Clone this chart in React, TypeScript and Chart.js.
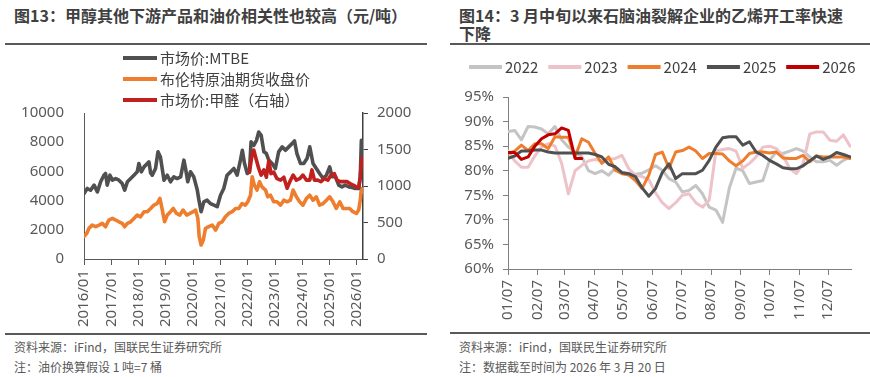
import React, { useEffect, useRef } from "react";
import { Chart, registerables } from "chart.js";

Chart.register(...registerables);

const LATIN = "'Noto Sans', 'Noto Sans CJK SC', sans-serif";
const CJK = "'Noto Sans CJK SC', 'Noto Sans', sans-serif";

// ---------- Figure 13 data ----------
const leftTitle = "图13：甲醇其他下游产品和油价相关性也较高（元/吨）";
const leftSource = "资料来源：iFind，国联民生证券研究所";
const leftNote = "注：油价换算假设 1 吨=7 桶";
const leftLabels = ["市场价:MTBE", "布伦特原油期货收盘价", "市场价:甲醛（右轴）"];
const leftYearTicks = [2016, 2017, 2018, 2019, 2020, 2021, 2022, 2023, 2024, 2025, 2026];

const mtbeYears = [
  2016.0, 2016.12, 2016.24, 2016.37, 2016.49, 2016.61, 2016.73, 2016.79, 2016.85, 2016.95,
  2017.04, 2017.16, 2017.28, 2017.4, 2017.49, 2017.59, 2017.71, 2017.83, 2017.95, 2018.01,
  2018.1, 2018.2, 2018.32, 2018.38, 2018.44, 2018.5, 2018.62, 2018.71, 2018.8, 2018.93,
  2019.05, 2019.17, 2019.29, 2019.41, 2019.54, 2019.66, 2019.72, 2019.8, 2019.9, 2020.02,
  2020.15, 2020.21, 2020.29, 2020.39, 2020.51, 2020.63, 2020.76, 2020.88, 2021.0, 2021.12,
  2021.24, 2021.37, 2021.49, 2021.61, 2021.73, 2021.8, 2021.88, 2021.98, 2022.06, 2022.12,
  2022.22, 2022.32, 2022.4, 2022.49, 2022.59, 2022.68, 2022.77, 2022.89, 2023.01, 2023.13,
  2023.26, 2023.38, 2023.5, 2023.62, 2023.71, 2023.8, 2023.93, 2024.05, 2024.17, 2024.27,
  2024.39, 2024.51, 2024.63, 2024.76, 2024.88, 2025.0, 2025.09, 2025.21, 2025.33, 2025.45,
  2025.57, 2025.7, 2025.82, 2025.94, 2026.06, 2026.12, 2026.16, 2026.2,
];
const mtbeValues = [
  4490, 4830, 4710, 5060, 4600, 5290, 5740, 5860, 5060, 5740,
  5400, 5510, 5400, 5170, 4720, 5290, 5510, 5740, 5970, 6540,
  5970, 6310, 6540, 6650, 5900, 5740, 6200, 7340, 6990, 5400,
  5740, 5290, 5630, 5510, 5630, 6770, 6200, 5290, 5970, 5630,
  4720, 4030, 3240, 3920, 4030, 3800, 3690, 3580, 4370, 4830,
  5740, 5970, 6200, 5740, 6770, 7450, 6540, 5860, 5970, 8020,
  7790, 8130, 8700, 8470, 7340, 7220, 6770, 6540, 6200, 7340,
  7680, 7450, 7680, 7900, 8090, 7220, 6540, 6540, 6880, 7680,
  6540, 6200, 5860, 5510, 5740, 6310, 5630, 5630, 5060, 4940,
  5060, 4940, 4900, 4830, 4830, 5630, 8130, 7680,
];

const brentYears = [
  2016.0, 2016.1, 2016.18, 2016.3, 2016.43, 2016.55, 2016.67, 2016.79, 2016.91, 2017.04,
  2017.16, 2017.28, 2017.4, 2017.49, 2017.59, 2017.71, 2017.83, 2017.95, 2018.07, 2018.2,
  2018.32, 2018.44, 2018.56, 2018.68, 2018.78, 2018.87, 2018.95, 2019.05, 2019.17, 2019.27,
  2019.39, 2019.51, 2019.63, 2019.76, 2019.88, 2020.0, 2020.09, 2020.17, 2020.22, 2020.29,
  2020.37, 2020.45, 2020.57, 2020.7, 2020.82, 2020.94, 2021.06, 2021.18, 2021.3, 2021.43,
  2021.55, 2021.67, 2021.79, 2021.91, 2022.0, 2022.1, 2022.16, 2022.24, 2022.34, 2022.43,
  2022.52, 2022.65, 2022.73, 2022.83, 2022.95, 2023.07, 2023.2, 2023.32, 2023.44, 2023.56,
  2023.66, 2023.78, 2023.9, 2024.02, 2024.15, 2024.27, 2024.39, 2024.51, 2024.63, 2024.76,
  2024.88, 2025.0, 2025.12, 2025.24, 2025.37, 2025.49, 2025.61, 2025.73, 2025.85, 2025.98,
  2026.06, 2026.12, 2026.16, 2026.2,
];
const brentValues = [
  1530, 1750, 2100, 2320, 2210, 2320, 2440, 2210, 2670, 2780,
  2670, 2550, 2440, 2210, 2440, 2550, 2780, 3010, 2890, 3240,
  3240, 3460, 3690, 3800, 4150, 3350, 2550, 3010, 3240, 3460,
  3120, 3010, 3350, 3010, 3120, 3240, 3350, 2780, 1530, 960,
  1300, 2100, 2210, 2320, 1980, 2440, 2550, 2890, 3120, 3240,
  3460, 3460, 3800, 3690, 3920, 4370, 5630, 5060, 4720, 5290,
  4940, 4720, 4260, 4370, 3920, 3920, 3690, 4030, 3920, 4030,
  4720, 4260, 3920, 3690, 4150, 4370, 4030, 4260, 3690, 3800,
  4030, 4260, 3920, 3460, 3920, 3460, 3460, 3460, 3240, 3120,
  3350, 4030, 4830, 4600,
];

const formaldehydeYears = [
  2022.06, 2022.16, 2022.22, 2022.32, 2022.4, 2022.49, 2022.59, 2022.68, 2022.77, 2022.85,
  2022.95, 2023.07, 2023.2, 2023.32, 2023.44, 2023.54, 2023.66, 2023.78, 2023.9, 2024.02,
  2024.15, 2024.27, 2024.35, 2024.44, 2024.56, 2024.68, 2024.8, 2024.93, 2025.05, 2025.17,
  2025.27, 2025.39, 2025.51, 2025.63, 2025.76, 2025.88, 2026.0, 2026.07, 2026.12, 2026.17,
  2026.2,
];
const formaldehydeValues = [
  1190, 1440, 1490, 1350, 1240, 1150, 1220, 1120, 1350, 1170,
  1190, 1100, 1080, 1120, 970, 1060, 1150, 1080, 1100, 1150,
  1080, 1080, 1220, 1080, 1080, 1060, 1100, 1080, 1150, 1170,
  1080, 1060, 1060, 1060, 1030, 1010, 980, 990, 1120, 1380,
  1330,
];

// ---------- Figure 14 data ----------
const rightTitle = ["图14：3 月中旬以来石脑油裂解企业的乙烯开工率快速", "下降"];
const rightSource = "资料来源：iFind，国联民生证券研究所";
const rightNote = "注：数据截至时间为 2026 年 3 月 20 日";
const seriesYears = ["2022", "2023", "2024", "2025", "2026"];
const monthTickLabels = ["01/07", "02/07", "03/07", "04/07", "05/07", "06/07", "07/07", "08/07", "09/07", "10/07", "11/07", "12/07"];
const rate2022 = [
  88, 88.2, 86.3, 89, 88.9, 88.5, 87.5, 89, 86.3, 84.8,
  83.8, 82.8, 80, 79.4, 80, 79.1, 80.5, 79.7, 79.5, 79.3,
  79.5, 80.2, 81, 80.1, 78.4, 77.7, 75.7, 76, 77, 75.3,
  72.6, 72, 69.5, 76.5, 80.5, 80, 77.4, 77.7, 78, 82.1,
  83.8, 83.5, 84, 84.5, 84, 82.8, 81.8, 81.8, 82.1, 81.1,
  82.1, 82.8,
];
const rate2023 = [
  84, 82, 80.7, 80.7, 83, 84.8, 85.5, 85, 81.5, 75.3,
  80, 81.1, 82, 82.3, 82, 82.3, 82.5, 83.1, 80.4, 79.1,
  78.8, 78.2, 75.5, 73.5, 72.3, 73.5, 75, 75.3, 73.5, 72.6,
  74, 84, 84.3, 84.5, 84, 80.5, 81.5, 82.8, 84.8, 85,
  84.5, 83, 80.5, 79.4, 81.5, 87.5, 87.9, 87.9, 86.2, 86,
  87.3, 85,
];
const rate2024 = [
  83.5, 84, 85.2, 84.1, 85.5, 85.5, 84.5, 86.9, 86.8, 86.8,
  82.8, 86.5, 85.8, 83.5, 81.5, 82.8, 80.1, 79.4, 79.1, 78,
  76.4, 79.1, 83.3, 83.8, 80.5, 83.8, 84.1, 84.8, 84, 82.5,
  83.5, 83.5, 83.4, 82, 81, 82, 83.5, 83.8, 83.8, 83.6,
  83.8, 82.6, 82.5, 82.5, 83.1, 81.8, 83, 82.8, 82.8, 82.8,
  82.8, 82.5,
];
const rate2025 = [
  82.5, 83, 84, 84, 84.2, 84.2, 83.8, 83.6, 83.6, 83.6,
  83.6, 83.6, 83.6, 83.3, 82.8, 81.3, 80.8, 79.6, 79.4, 78.8,
  76.5, 74.8, 76.4, 79.6, 81.4, 78.4, 79.4, 79.4, 79.4, 80.1,
  82.1, 84.8, 86.7, 86.9, 86.9, 85.2, 85.9, 83.8, 83.1, 82.1,
  81.4, 80.6, 80.4, 80.4, 81, 82, 83, 82.3, 82.8, 83.7,
  83.3, 82.8,
];
const rate2026 = [83.7, 83.7, 82.3, 82.8, 85, 86.5, 87.3, 87.5, 88.7, 88.2, 82.5, 82.5];

// ---------- helpers ----------
const dayOfYear = (month: number, day: number) =>
  Math.round((Date.UTC(2021, month, day) - Date.UTC(2021, 0, 1)) / 86400000);
const monthTickDays = monthTickLabels.map((_, m) => dayOfYear(m, 7));
const weekDay = (i: number) => monthTickDays[0] + 7 * i;
const toXY = (xs: number[], ys: number[]) => ys.map((y, i) => ({ x: xs[i], y }));
const toWeekly = (ys: number[]) => ys.map((y, i) => ({ x: weekDay(i), y }));

const TICK_COLOR = "#595959";

const legendPlugin = {
  id: "customLegend",
  afterDraw(chart: any, _args: any, opts: any) {
    const { ctx } = chart;
    ctx.save();
    ctx.font = `${opts.fontSize}px ${CJK}`;
    ctx.textBaseline = "middle";
    ctx.fillStyle = "#404040";
    let x = opts.x;
    let y = opts.y;
    chart.data.datasets.forEach((ds: any) => {
      ctx.strokeStyle = ds.borderColor;
      ctx.lineWidth = opts.lineWidth;
      ctx.lineCap = "butt";
      ctx.beginPath();
      ctx.moveTo(x, y);
      ctx.lineTo(x + opts.swatch, y);
      ctx.stroke();
      const tx = x + opts.swatch + opts.gap;
      ctx.fillText(ds.label, tx, y + 0.5);
      if (opts.vertical) {
        y += opts.rowGap;
      } else {
        x = tx + ctx.measureText(ds.label).width + opts.spacing;
      }
    });
    ctx.restore();
  },
};

function LeftChart() {
  const ref = useRef<HTMLCanvasElement>(null);
  useEffect(() => {
    const chart = new Chart(ref.current!, {
      type: "line",
      data: {
        datasets: [
          { label: leftLabels[0], data: toXY(mtbeYears, mtbeValues), borderColor: "#505050", yAxisID: "y", order: 1 },
          { label: leftLabels[1], data: toXY(brentYears, brentValues), borderColor: "#EE7D2E", yAxisID: "y", order: 2 },
          { label: leftLabels[2], data: toXY(formaldehydeYears, formaldehydeValues), borderColor: "#C0201E", yAxisID: "y1", order: 0 },
        ],
      },
      options: {
        responsive: false,
        animation: false,
        parsing: false as any,
        layout: { padding: { top: 67, left: 0, right: 0, bottom: 0 } },
        elements: {
          line: { borderWidth: 3.6, tension: 0, borderJoinStyle: "round", borderCapStyle: "round" },
          point: { radius: 0 },
        },
        plugins: {
          legend: { display: false },
          tooltip: { enabled: false },
          customLegend: { x: 123, y: 12, vertical: true, rowGap: 21, swatch: 34, gap: 3, lineWidth: 4, fontSize: 15 },
        } as any,
        scales: {
          x: {
            type: "linear",
            min: 2016,
            max: 2026.22,
            grid: { drawOnChartArea: false, color: "#595959", tickLength: 6 },
            border: { color: "#595959", width: 1 },
            afterBuildTicks: (s: any) => {
              s.ticks = leftYearTicks.map((v) => ({ value: v }));
            },
            afterFit: (s: any) => {
              s.height = 75;
            },
            ticks: {
              autoSkip: false,
              minRotation: 90,
              maxRotation: 90,
              padding: 5,
              color: TICK_COLOR,
              font: { family: LATIN, size: 15 },
              callback: (v: any) => `${v}/01`,
            },
          },
          y: {
            position: "left",
            min: 0,
            max: 10000,
            grid: { drawOnChartArea: false, color: "transparent", tickLength: 8 },
            border: { color: "#595959", width: 1 },
            afterFit: (s: any) => {
              s.width = 84;
            },
            ticks: {
              stepSize: 2000,
              padding: 12,
              color: TICK_COLOR,
              font: { family: LATIN, size: 15 },
              callback: (v: any) => String(v),
            },
          },
          y1: {
            position: "right",
            min: 0,
            max: 2000,
            grid: { drawOnChartArea: false, color: "#404040", tickLength: 5 },
            border: { color: "#404040", width: 1.5 },
            afterFit: (s: any) => {
              s.width = 72;
            },
            ticks: {
              stepSize: 500,
              padding: 9,
              color: TICK_COLOR,
              font: { family: LATIN, size: 15 },
              callback: (v: any) => String(v),
            },
          },
        },
      },
      plugins: [legendPlugin],
    });
    return () => chart.destroy();
  }, []);
  return <canvas ref={ref} width={435} height={288} style={{ position: "absolute", left: 0, top: 46 }} />;
}

function RightChart() {
  const ref = useRef<HTMLCanvasElement>(null);
  useEffect(() => {
    const colors = ["#C4C4C4", "#EDC3C9", "#EE7D2E", "#505050", "#C00000"];
    const series = [rate2022, rate2023, rate2024, rate2025, rate2026];
    const chart = new Chart(ref.current!, {
      type: "line",
      data: {
        datasets: series.map((s, i) => ({
          label: seriesYears[i],
          data: toWeekly(s),
          borderColor: colors[i],
          order: 4 - i,
        })),
      },
      options: {
        responsive: false,
        animation: false,
        parsing: false as any,
        layout: { padding: { top: 51, left: 0, right: 19, bottom: 0 } },
        elements: {
          line: { borderWidth: 3, tension: 0, borderJoinStyle: "round", borderCapStyle: "round" },
          point: { radius: 0 },
        },
        plugins: {
          legend: { display: false },
          tooltip: { enabled: false },
          customLegend: { x: 34, y: 21, vertical: false, swatch: 33, gap: 3, spacing: 10, lineWidth: 4, fontSize: 15 },
        } as any,
        scales: {
          x: {
            type: "linear",
            min: monthTickDays[0],
            max: 364,
            grid: { drawOnChartArea: false, color: "#7f7f7f", tickLength: 6 },
            border: { color: "#7f7f7f", width: 1 },
            afterBuildTicks: (s: any) => {
              s.ticks = monthTickDays.map((v) => ({ value: v }));
            },
            afterFit: (s: any) => {
              s.height = 64;
            },
            ticks: {
              autoSkip: false,
              minRotation: 90,
              maxRotation: 90,
              padding: 5,
              color: TICK_COLOR,
              font: { family: LATIN, size: 15 },
              callback: (v: any) => monthTickLabels[monthTickDays.indexOf(v)] ?? "",
            },
          },
          y: {
            min: 60,
            max: 95,
            grid: { drawOnChartArea: false, color: "#7f7f7f", tickLength: 5 },
            border: { color: "#7f7f7f", width: 1 },
            afterFit: (s: any) => {
              s.width = 73;
            },
            ticks: {
              stepSize: 5,
              padding: 9,
              color: TICK_COLOR,
              font: { family: LATIN, size: 15 },
              callback: (v: any) => `${v}%`,
            },
          },
        },
      },
      plugins: [legendPlugin],
    });
    return () => chart.destroy();
  }, []);
  return <canvas ref={ref} width={435} height={287} style={{ position: "absolute", left: 435, top: 46 }} />;
}

const titleStyle: React.CSSProperties = {
  position: "absolute",
  fontFamily: CJK,
  fontWeight: 700,
  fontSize: 16,
  lineHeight: "18px",
  color: "#404040",
  whiteSpace: "nowrap",
  margin: 0,
};
const footStyle: React.CSSProperties = {
  position: "absolute",
  fontFamily: CJK,
  fontSize: 12,
  lineHeight: "16px",
  color: "#595959",
  whiteSpace: "nowrap",
};
const rule = (left: number, top: number, width: number): React.CSSProperties => ({
  position: "absolute",
  left,
  top,
  width,
  height: 2,
  background: "#595959",
});

export default function App() {
  return (
    <div style={{ position: "fixed", left: 0, top: 0, width: 870, height: 377, background: "#fff", overflow: "hidden" }}>
      <div style={{ ...titleStyle, left: 14, top: 6 }}>{leftTitle}</div>
      <div style={{ ...titleStyle, left: 459, top: 6 }}>
        {rightTitle[0]}
        <br />
        {rightTitle[1]}
      </div>
      <div style={rule(5, 43, 422)} />
      <div style={rule(450, 43, 420)} />
      <LeftChart />
      <RightChart />
      <div style={rule(5, 333, 422)} />
      <div style={rule(450, 332, 420)} />
      <div style={{ ...footStyle, left: 14, top: 339 }}>{leftSource}</div>
      <div style={{ ...footStyle, left: 14, top: 359 }}>{leftNote}</div>
      <div style={{ ...footStyle, left: 459, top: 339 }}>{rightSource}</div>
      <div style={{ ...footStyle, left: 459, top: 359 }}>{rightNote}</div>
    </div>
  );
}
